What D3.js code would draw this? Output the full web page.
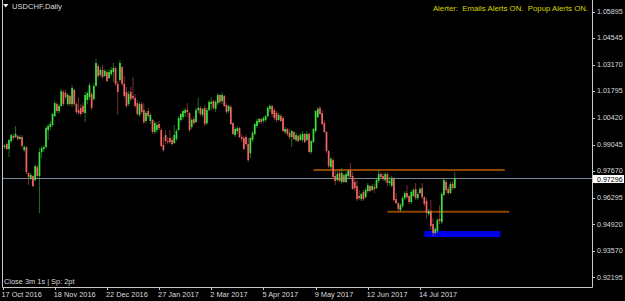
<!DOCTYPE html>
<html lang="en">
<head>
<meta charset="UTF-8">
<title>USDCHF,Daily</title>
<script src="https://d3js.org/d3.v7.min.js"></script>
<style>
  html, body { margin: 0; padding: 0; background: #000; }
  svg { display: block; font-family: "Liberation Sans", Arial, sans-serif; }
</style>
</head>
<body>
<div id="chart"></div>
<script>
// daily OHLC, one entry per bar, starting 17 Oct 2016
const opens = [
  0.9902, 0.9891, 0.9907, 0.9881, 0.9922, 0.9948, 0.9943, 0.9948, 0.9933, 0.9943, 0.9876, 0.9891,
  0.9757, 0.9731, 0.9742, 0.9721, 0.9788, 0.9742, 0.9866, 0.9881, 0.9891, 0.9979, 0.9995, 1.0005,
  1.0051, 1.0113, 1.0077, 1.0103, 1.0175, 1.0170, 1.0113, 1.0155, 1.0113, 1.0186, 1.0113, 1.0082,
  1.0093, 1.0103, 1.0067, 1.0134, 1.0149, 1.0165, 1.0139, 1.0206, 1.0309, 1.0263, 1.0289, 1.0258,
  1.0278, 1.0247, 1.0268, 1.0278, 1.0299, 1.0217, 1.0237, 1.0304, 1.0217, 1.0175, 1.0113, 1.0175,
  1.0155, 1.0144, 1.0118, 1.0057, 1.0113, 1.0082, 1.0026, 1.0077, 1.0026, 1.0031, 0.9969, 0.9979,
  1.0010, 0.9979, 0.9902, 0.9953, 0.9922, 0.9938, 0.9928, 0.9912, 0.9933, 0.9979, 1.0031, 1.0046,
  1.0067, 1.0082, 1.0067, 0.9995, 1.0036, 1.0020, 1.0082, 1.0093, 1.0057, 1.0093, 1.0015, 1.0082,
  1.0113, 1.0129, 1.0088, 1.0118, 1.0160, 1.0129, 1.0155, 1.0108, 1.0077, 1.0098, 1.0015, 0.9953,
  0.9974, 0.9989, 0.9943, 0.9938, 0.9943, 0.9907, 0.9860, 0.9928, 0.9959, 1.0000, 1.0020, 1.0036,
  1.0026, 1.0031, 1.0051, 1.0088, 1.0103, 1.0082, 1.0067, 1.0031, 1.0051, 1.0041, 0.9969, 0.9984,
  0.9964, 0.9943, 0.9969, 0.9928, 0.9948, 0.9928, 0.9928, 0.9959, 0.9928, 0.9959, 0.9866, 0.9917,
  0.9974, 1.0046, 1.0093, 1.0067, 1.0015, 0.9969, 0.9871, 0.9788, 0.9824, 0.9742, 0.9721, 0.9757,
  0.9711, 0.9747, 0.9711, 0.9742, 0.9773, 0.9742, 0.9711, 0.9690, 0.9639, 0.9623, 0.9659, 0.9633,
  0.9664, 0.9690, 0.9670, 0.9685, 0.9680, 0.9716, 0.9752, 0.9742, 0.9721, 0.9752, 0.9706, 0.9690,
  0.9726, 0.9623, 0.9602, 0.9566, 0.9587, 0.9628, 0.9654, 0.9639, 0.9608, 0.9639, 0.9675, 0.9628,
  0.9654, 0.9680, 0.9633, 0.9613, 0.9546, 0.9561, 0.9494, 0.9448, 0.9458, 0.9520, 0.9504, 0.9644,
  0.9711, 0.9675, 0.9654, 0.9701, 0.9680
];
const highs = [
  0.9912, 0.9907, 0.9917, 0.9933, 0.9959, 0.9959, 1.0000, 0.9953, 0.9953, 0.9953, 0.9902, 0.9897,
  0.9762, 0.9757, 0.9747, 0.9799, 0.9799, 0.9886, 0.9897, 0.9902, 1.0000, 1.0010, 1.0026, 1.0067,
  1.0129, 1.0124, 1.0113, 1.0191, 1.0186, 1.0186, 1.0170, 1.0160, 1.0211, 1.0191, 1.0124, 1.0149,
  1.0113, 1.0118, 1.0175, 1.0180, 1.0222, 1.0175, 1.0222, 1.0346, 1.0320, 1.0304, 1.0315, 1.0294,
  1.0289, 1.0294, 1.0304, 1.0325, 1.0309, 1.0232, 1.0340, 1.0309, 1.0258, 1.0201, 1.0180, 1.0201,
  1.0253, 1.0165, 1.0134, 1.0124, 1.0124, 1.0118, 1.0077, 1.0093, 1.0067, 1.0036, 1.0026, 1.0020,
  1.0026, 0.9989, 0.9943, 0.9979, 0.9943, 0.9979, 0.9943, 1.0005, 0.9984, 1.0051, 1.0067, 1.0082,
  1.0093, 1.0118, 1.0072, 1.0041, 1.0051, 1.0093, 1.0144, 1.0103, 1.0093, 1.0108, 1.0093, 1.0134,
  1.0149, 1.0134, 1.0134, 1.0170, 1.0165, 1.0175, 1.0160, 1.0118, 1.0108, 1.0108, 1.0020, 0.9995,
  1.0000, 0.9995, 0.9959, 0.9948, 0.9953, 0.9938, 0.9943, 0.9974, 1.0015, 1.0036, 1.0041, 1.0041,
  1.0051, 1.0057, 1.0103, 1.0113, 1.0108, 1.0093, 1.0077, 1.0067, 1.0062, 1.0051, 0.9995, 0.9989,
  0.9984, 0.9979, 0.9974, 0.9964, 0.9959, 0.9964, 0.9974, 0.9964, 0.9974, 0.9964, 0.9928, 0.9989,
  1.0082, 1.0098, 1.0103, 1.0082, 1.0026, 0.9974, 0.9876, 0.9840, 0.9835, 0.9773, 0.9768, 0.9778,
  0.9783, 0.9752, 0.9762, 0.9778, 0.9809, 0.9762, 0.9726, 0.9721, 0.9670, 0.9654, 0.9670, 0.9680,
  0.9706, 0.9695, 0.9701, 0.9701, 0.9731, 0.9773, 0.9762, 0.9757, 0.9762, 0.9762, 0.9737, 0.9742,
  0.9737, 0.9654, 0.9608, 0.9602, 0.9639, 0.9664, 0.9695, 0.9644, 0.9670, 0.9680, 0.9706, 0.9659,
  0.9685, 0.9706, 0.9639, 0.9628, 0.9572, 0.9618, 0.9525, 0.9479, 0.9525, 0.9592, 0.9659, 0.9731,
  0.9721, 0.9690, 0.9711, 0.9716, 0.9762
];
const lows = [
  0.9881, 0.9881, 0.9876, 0.9840, 0.9912, 0.9928, 0.9938, 0.9922, 0.9928, 0.9886, 0.9866, 0.9752,
  0.9695, 0.9721, 0.9685, 0.9716, 0.9731, 0.9551, 0.9835, 0.9866, 0.9886, 0.9928, 0.9979, 0.9995,
  1.0046, 1.0067, 1.0062, 1.0098, 1.0103, 1.0139, 1.0103, 1.0103, 1.0098, 1.0103, 1.0062, 1.0057,
  1.0051, 1.0062, 1.0020, 1.0113, 1.0134, 1.0082, 1.0129, 1.0201, 1.0247, 1.0253, 1.0242, 1.0253,
  1.0227, 1.0242, 1.0258, 1.0227, 1.0206, 1.0057, 1.0227, 1.0206, 1.0144, 1.0093, 1.0103, 1.0129,
  1.0134, 1.0093, 1.0051, 1.0046, 1.0062, 1.0010, 1.0015, 1.0041, 1.0010, 0.9959, 0.9959, 0.9964,
  0.9979, 0.9891, 0.9866, 0.9907, 0.9907, 0.9907, 0.9897, 0.9907, 0.9922, 0.9974, 1.0020, 1.0031,
  1.0046, 1.0046, 0.9969, 0.9984, 1.0005, 1.0015, 1.0067, 1.0051, 1.0046, 1.0000, 1.0005, 1.0077,
  1.0082, 1.0082, 1.0072, 1.0108, 1.0113, 1.0113, 1.0098, 1.0062, 1.0067, 1.0005, 0.9953, 0.9943,
  0.9959, 0.9938, 0.9917, 0.9876, 0.9897, 0.9814, 0.9835, 0.9917, 0.9953, 0.9989, 1.0010, 1.0010,
  1.0015, 1.0020, 1.0041, 1.0072, 1.0046, 1.0031, 1.0020, 1.0026, 1.0020, 0.9969, 0.9959, 0.9948,
  0.9933, 0.9891, 0.9928, 0.9917, 0.9917, 0.9922, 0.9917, 0.9912, 0.9922, 0.9860, 0.9855, 0.9912,
  0.9964, 1.0041, 1.0057, 1.0005, 0.9964, 0.9860, 0.9783, 0.9778, 0.9731, 0.9695, 0.9716, 0.9711,
  0.9701, 0.9706, 0.9706, 0.9731, 0.9731, 0.9670, 0.9664, 0.9613, 0.9618, 0.9613, 0.9613, 0.9628,
  0.9654, 0.9659, 0.9664, 0.9654, 0.9675, 0.9706, 0.9731, 0.9716, 0.9711, 0.9690, 0.9695, 0.9685,
  0.9608, 0.9597, 0.9556, 0.9556, 0.9577, 0.9618, 0.9623, 0.9597, 0.9597, 0.9633, 0.9618, 0.9618,
  0.9649, 0.9623, 0.9587, 0.9525, 0.9535, 0.9463, 0.9432, 0.9437, 0.9448, 0.9494, 0.9494, 0.9639,
  0.9654, 0.9644, 0.9649, 0.9670, 0.9675
];
const closes = [
  0.9891, 0.9897, 0.9881, 0.9928, 0.9953, 0.9938, 0.9959, 0.9933, 0.9943, 0.9897, 0.9891, 0.9762,
  0.9737, 0.9747, 0.9690, 0.9793, 0.9742, 0.9866, 0.9886, 0.9891, 0.9989, 1.0000, 1.0010, 1.0062,
  1.0118, 1.0077, 1.0103, 1.0180, 1.0113, 1.0149, 1.0160, 1.0113, 1.0196, 1.0113, 1.0072, 1.0067,
  1.0062, 1.0072, 1.0160, 1.0170, 1.0211, 1.0093, 1.0206, 1.0325, 1.0258, 1.0289, 1.0253, 1.0284,
  1.0232, 1.0278, 1.0289, 1.0299, 1.0217, 1.0175, 1.0325, 1.0217, 1.0155, 1.0103, 1.0165, 1.0139,
  1.0144, 1.0103, 1.0062, 1.0113, 1.0072, 1.0020, 1.0067, 1.0051, 1.0057, 0.9969, 1.0015, 1.0005,
  0.9989, 0.9897, 0.9876, 0.9922, 0.9917, 0.9917, 0.9907, 0.9953, 0.9974, 1.0041, 1.0062, 1.0077,
  1.0082, 1.0072, 0.9979, 1.0031, 1.0015, 1.0082, 1.0093, 1.0062, 1.0088, 1.0010, 1.0082, 1.0124,
  1.0124, 1.0093, 1.0124, 1.0160, 1.0124, 1.0160, 1.0103, 1.0072, 1.0103, 1.0010, 0.9959, 0.9984,
  0.9989, 0.9943, 0.9933, 0.9881, 0.9907, 0.9824, 0.9938, 0.9964, 1.0010, 1.0026, 1.0036, 1.0020,
  1.0041, 1.0051, 1.0093, 1.0103, 1.0062, 1.0041, 1.0031, 1.0057, 1.0026, 0.9974, 0.9984, 0.9959,
  0.9943, 0.9974, 0.9933, 0.9953, 0.9922, 0.9953, 0.9959, 0.9917, 0.9959, 0.9866, 0.9922, 0.9984,
  1.0077, 1.0088, 1.0062, 1.0010, 0.9969, 0.9871, 0.9793, 0.9830, 0.9737, 0.9716, 0.9752, 0.9716,
  0.9757, 0.9711, 0.9752, 0.9768, 0.9737, 0.9675, 0.9680, 0.9623, 0.9628, 0.9649, 0.9623, 0.9670,
  0.9695, 0.9664, 0.9690, 0.9675, 0.9721, 0.9752, 0.9737, 0.9726, 0.9752, 0.9706, 0.9716, 0.9731,
  0.9618, 0.9602, 0.9572, 0.9592, 0.9628, 0.9654, 0.9633, 0.9608, 0.9659, 0.9670, 0.9628, 0.9649,
  0.9675, 0.9633, 0.9597, 0.9551, 0.9561, 0.9484, 0.9448, 0.9468, 0.9515, 0.9510, 0.9649, 0.9721,
  0.9670, 0.9654, 0.9701, 0.9680, 0.97296
];

const dateLabels = ["17 Oct 2016", "18 Nov 2016", "22 Dec 2016", "27 Jan 2017", "2 Mar 2017",
                    "5 Apr 2017", "9 May 2017", "12 Jun 2017", "14 Jul 2017"];
const barsPerLabel = 24;
const priceTicks = [1.05895, 1.04545, 1.03170, 1.01795, 1.00420, 0.99045,
                    0.97670, 0.96295, 0.94920, 0.93570, 0.92195];
const bidPrice = closes[closes.length - 1];

// user drawn objects, in bar index / price units
const levelLines = [
  { price: 0.9773, from: 143, to: 231 },
  { price: 0.9558, from: 177, to: 233 }
];
const zones = [
  { top: 0.9458, bottom: 0.9427, from: 194, to: 229 }
];

const W = 625, H = 301;
const plot = { left: 2, right: 592, top: 0, bottom: 287 };

const n = Math.min(opens.length, highs.length, lows.length, closes.length);
const bars = d3.range(n).map(i => ({ i, o: opens[i], h: highs[i], l: lows[i], c: closes[i] }));

const x = d3.scaleLinear()
    .domain([0, barsPerLabel * (dateLabels.length - 1)])
    .range([2.5, 420]);
const y = d3.scaleLinear()
    .domain([0.92195, 1.05895])
    .range([277.3, 11.7]);

const svg = d3.select("#chart").append("svg")
    .attr("width", W)
    .attr("height", H);

svg.append("rect").attr("width", W).attr("height", H).attr("fill", "#000");

svg.append("clipPath").attr("id", "plotclip")
  .append("rect")
    .attr("x", plot.left + 1).attr("y", plot.top)
    .attr("width", plot.right - plot.left - 1).attr("height", plot.bottom - plot.top);

const g = svg.append("g").attr("clip-path", "url(#plotclip)");

// objects sit behind the candles
g.selectAll(".zone")
  .data(zones)
  .enter().append("rect")
    .attr("x", d => x(d.from))
    .attr("y", d => y(d.top))
    .attr("width", d => x(d.to) - x(d.from))
    .attr("height", d => y(d.bottom) - y(d.top))
    .attr("fill", "#0000e6");

g.selectAll(".level")
  .data(levelLines)
  .enter().append("line")
    .attr("x1", d => x(d.from))
    .attr("x2", d => x(d.to))
    .attr("y1", d => y(d.price))
    .attr("y2", d => y(d.price))
    .attr("stroke", "#8b4500")
    .attr("stroke-width", 2);

g.append("line")
    .attr("x1", plot.left).attr("x2", plot.right)
    .attr("y1", Math.round(y(bidPrice)) + 0.5).attr("y2", Math.round(y(bidPrice)) + 0.5)
    .attr("stroke", "#778899")
    .attr("stroke-width", 1);

const upCol = "#40e040", downCol = "#f06464";
const colour = d => d.c >= d.o ? upCol : downCol;

g.selectAll(".wick")
  .data(bars)
  .enter().append("line")
    .attr("x1", d => x(d.i)).attr("x2", d => x(d.i))
    .attr("y1", d => y(d.h)).attr("y2", d => y(d.l))
    .attr("stroke", colour)
    .attr("stroke-opacity", 0.55)
    .attr("stroke-width", 0.9);

g.selectAll(".body")
  .data(bars)
  .enter().append("rect")
    .attr("x", d => x(d.i) - 0.85)
    .attr("y", d => y(Math.max(d.o, d.c)))
    .attr("width", 1.7)
    .attr("height", d => Math.max(1, Math.abs(y(d.o) - y(d.c))))
    .attr("fill", colour);

// frame
const frameCol = "#c8c8c8";
svg.append("path")
    .attr("d", `M${plot.left + 0.5},${plot.top} V${plot.bottom + 0.5} H${plot.right + 0.5} V${plot.top}`)
    .attr("fill", "none")
    .attr("stroke", frameCol)
    .attr("stroke-width", 1);

// price scale
const textCol = "#dcdcdc";
const fmt = d3.format(".5f");
const py = svg.append("g");
py.selectAll("line")
  .data(priceTicks)
  .enter().append("line")
    .attr("x1", plot.right).attr("x2", plot.right + 3)
    .attr("y1", d => Math.round(y(d)) + 0.5).attr("y2", d => Math.round(y(d)) + 0.5)
    .attr("stroke", frameCol);
py.selectAll("text")
  .data(priceTicks)
  .enter().append("text")
    .attr("x", plot.right + 5)
    .attr("y", d => y(d) + 2.3)
    .attr("fill", textCol)
    .attr("font-size", "7.1px")
    .text(d => fmt(d));

// bid label
const by = y(bidPrice);
svg.append("rect")
    .attr("x", plot.right + 1).attr("y", by - 3.4)
    .attr("width", 31).attr("height", 8)
    .attr("fill", "#fff");
svg.append("text")
    .attr("x", plot.right + 5).attr("y", by + 3.1)
    .attr("fill", "#000")
    .attr("font-size", "7.1px")
    .text(fmt(bidPrice));

// time scale
const tx = svg.append("g");
const tickIdx = dateLabels.map((d, k) => k * barsPerLabel);
tx.selectAll("line")
  .data(tickIdx)
  .enter().append("line")
    .attr("x1", d => Math.round(x(d)) + 0.5).attr("x2", d => Math.round(x(d)) + 0.5)
    .attr("y1", plot.bottom).attr("y2", plot.bottom + 3)
    .attr("stroke", frameCol);
tx.selectAll("text")
  .data(dateLabels)
  .enter().append("text")
    .attr("x", (d, k) => x(tickIdx[k]) - 1)
    .attr("y", 297)
    .attr("fill", textCol)
    .attr("font-size", "7.4px")
    .text(d => d);

// captions
svg.append("path")
    .attr("d", "M3,4 L8.5,4 L5.75,7.5 Z")
    .attr("fill", "#e8e8e8");
svg.append("text")
    .attr("x", 12).attr("y", 9)
    .attr("fill", textCol)
    .attr("font-size", "7.6px")
    .text("USDCHF,Daily");
svg.append("text")
    .attr("x", 588).attr("y", 11)
    .attr("text-anchor", "end")
    .attr("fill", "#d8d800")
    .attr("font-size", "7.8px")
    .text("Alerter:  Emails Alerts ON.  Popup Alerts ON.")
    .attr("xml:space", "preserve")
    .style("white-space", "pre");
svg.append("text")
    .attr("x", 4).attr("y", 283.5)
    .attr("fill", textCol)
    .attr("font-size", "7.4px")
    .text("Close 3m 1s | Sp: 2pt");
</script>
</body>
</html>
